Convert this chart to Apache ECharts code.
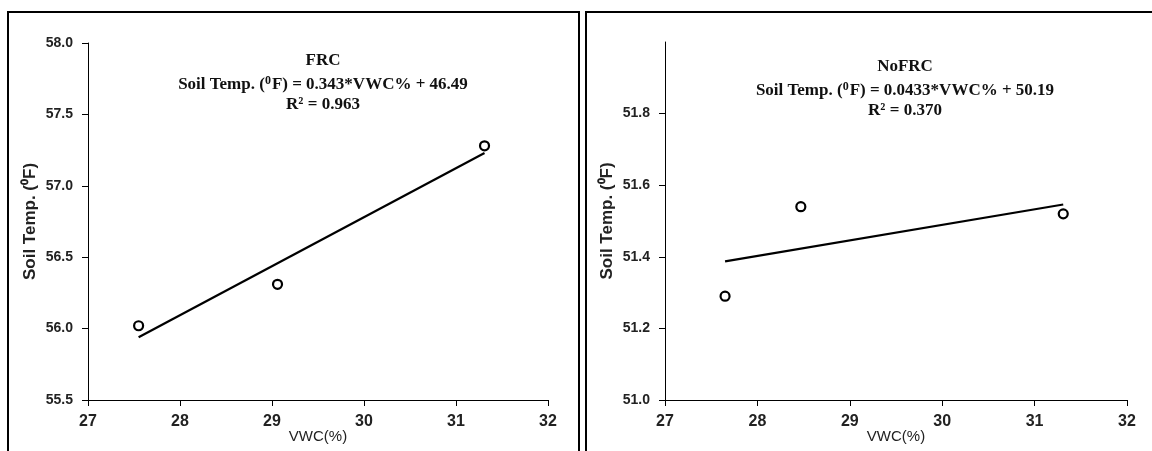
<!DOCTYPE html>
<html>
<head>
<meta charset="utf-8">
<script src="https://cdn.jsdelivr.net/npm/echarts@6/dist/echarts.min.js"></script>
<style>
  html, body { margin: 0; padding: 0; background: #fff; }
  #chart { width: 1152px; height: 451px; }
</style>
</head>
<body>
<div id="chart"></div>
<script>
// FRC panel
const frcVwc = [27.55, 29.06, 31.31]
const frcTemp = [56.02, 56.31, 57.28]
const frcTrendX = [27.55, 31.31]
const frcTrendY = [55.94, 57.23]

// NoFRC panel
const nofrcVwc = [27.65, 28.47, 31.31]
const nofrcTemp = [51.29, 51.54, 51.52]
const nofrcTrendX = [27.65, 31.31]
const nofrcTrendY = [51.387, 51.546]

const nofrcTicks = [51.0, 51.2, 51.4, 51.6, 51.8]

const titles = [
  { name: 'FRC', eq: '0.343*VWC% + 46.49', r2: '0.963' },
  { name: 'NoFRC', eq: '0.0433*VWC% + 50.19', r2: '0.370' }
]

const pairs = (xs, ys) => xs.map((x, i) => [x, ys[i]])

const serif = '"Liberation Serif", "Times New Roman", serif'
const sans = '"Liberation Sans", Arial, sans-serif'

const titleRich = {
  t: { fontFamily: serif, fontWeight: 'bold', fontSize: 17, color: '#111', lineHeight: 29 },
  b: { fontFamily: serif, fontWeight: 'bold', fontSize: 17, color: '#111', lineHeight: 20 },
  s: { fontFamily: serif, fontWeight: 'bold', fontSize: 12, color: '#111', lineHeight: 20, verticalAlign: 'top', padding: [0, 1, 9, 0] }
}

const makeTitle = (t, x, y) => ({
  left: x,
  top: y,
  textAlign: 'center',
  text: `{t|${t.name}}\n{b|Soil Temp. (}{s|0}{b|F) = ${t.eq}}\n{b|R² = ${t.r2}}`,
  textStyle: { rich: titleRich, align: 'center' }
})

const xAxisBase = gridIndex => ({
  type: 'value',
  gridIndex,
  min: 27,
  max: 32,
  interval: 1,
  name: 'VWC(%)',
  nameLocation: 'middle',
  nameGap: 29,
  nameMoveOverlap: false,
  nameTextStyle: { fontFamily: sans, fontSize: 15, color: '#222' },
  axisLine: { lineStyle: { color: '#000', width: 1 } },
  axisTick: { length: 6, lineStyle: { color: '#000' } },
  axisLabel: { fontFamily: sans, fontWeight: 'bold', fontSize: 16, color: '#222', margin: 14 },
  splitLine: { show: false }
})

const yLabel = {
  fontFamily: sans, fontWeight: 'bold', fontSize: 14, color: '#222', margin: 15,
  formatter: v => v.toFixed(1)
}

const yAxisBase = gridIndex => ({
  type: 'value',
  gridIndex,
  name: 'Soil Temp. (⁰F)',
  nameLocation: 'middle',
  nameGap: 49,
  nameTextStyle: { fontFamily: sans, fontWeight: 'bold', fontSize: 17, color: '#222' },
  axisLine: { show: true, lineStyle: { color: '#000', width: 1 } },
  axisTick: { length: 6, lineStyle: { color: '#000' } },
  axisLabel: yLabel,
  splitLine: { show: false }
})

const scatterStyle = {
  type: 'scatter',
  symbol: 'circle',
  symbolSize: 9,
  itemStyle: { color: '#fff', borderColor: '#000', borderWidth: 2.2, opacity: 1 },
  z: 3
}

const trendStyle = {
  type: 'line',
  symbol: 'none',
  lineStyle: { color: '#000', width: 2.2 },
  z: 2
}

const chart = echarts.init(document.getElementById('chart'))
chart.setOption({
  animation: false,
  backgroundColor: '#fff',
  graphic: [
    { type: 'rect', shape: { x: 8, y: 12, width: 571, height: 460 }, style: { fill: 'none', stroke: '#000', lineWidth: 2 } },
    { type: 'rect', shape: { x: 586, y: 12, width: 600, height: 460 }, style: { fill: 'none', stroke: '#000', lineWidth: 2 } }
  ],
  title: [
    makeTitle(titles[0], 318, 41),
    makeTitle(titles[1], 900, 47)
  ],
  grid: [
    { left: 88, top: 43, width: 460, height: 357, outerBoundsMode: 'none' },
    { left: 665, top: 42, width: 462, height: 358, outerBoundsMode: 'none' }
  ],
  xAxis: [xAxisBase(0), xAxisBase(1)],
  yAxis: [
    Object.assign(yAxisBase(0), { min: 55.5, max: 58, interval: 0.5 }),
    Object.assign(yAxisBase(1), {
      min: 51, max: 52, interval: 0.2,
      axisTick: { length: 6, lineStyle: { color: '#000' }, customValues: nofrcTicks },
      axisLabel: Object.assign({}, yLabel, { customValues: nofrcTicks })
    })
  ],
  series: [
    Object.assign({}, trendStyle, { xAxisIndex: 0, yAxisIndex: 0, data: pairs(frcTrendX, frcTrendY) }),
    Object.assign({}, scatterStyle, { xAxisIndex: 0, yAxisIndex: 0, data: pairs(frcVwc, frcTemp) }),
    Object.assign({}, trendStyle, { xAxisIndex: 1, yAxisIndex: 1, data: pairs(nofrcTrendX, nofrcTrendY) }),
    Object.assign({}, scatterStyle, { xAxisIndex: 1, yAxisIndex: 1, data: pairs(nofrcVwc, nofrcTemp) })
  ]
})
</script>
</body>
</html>
